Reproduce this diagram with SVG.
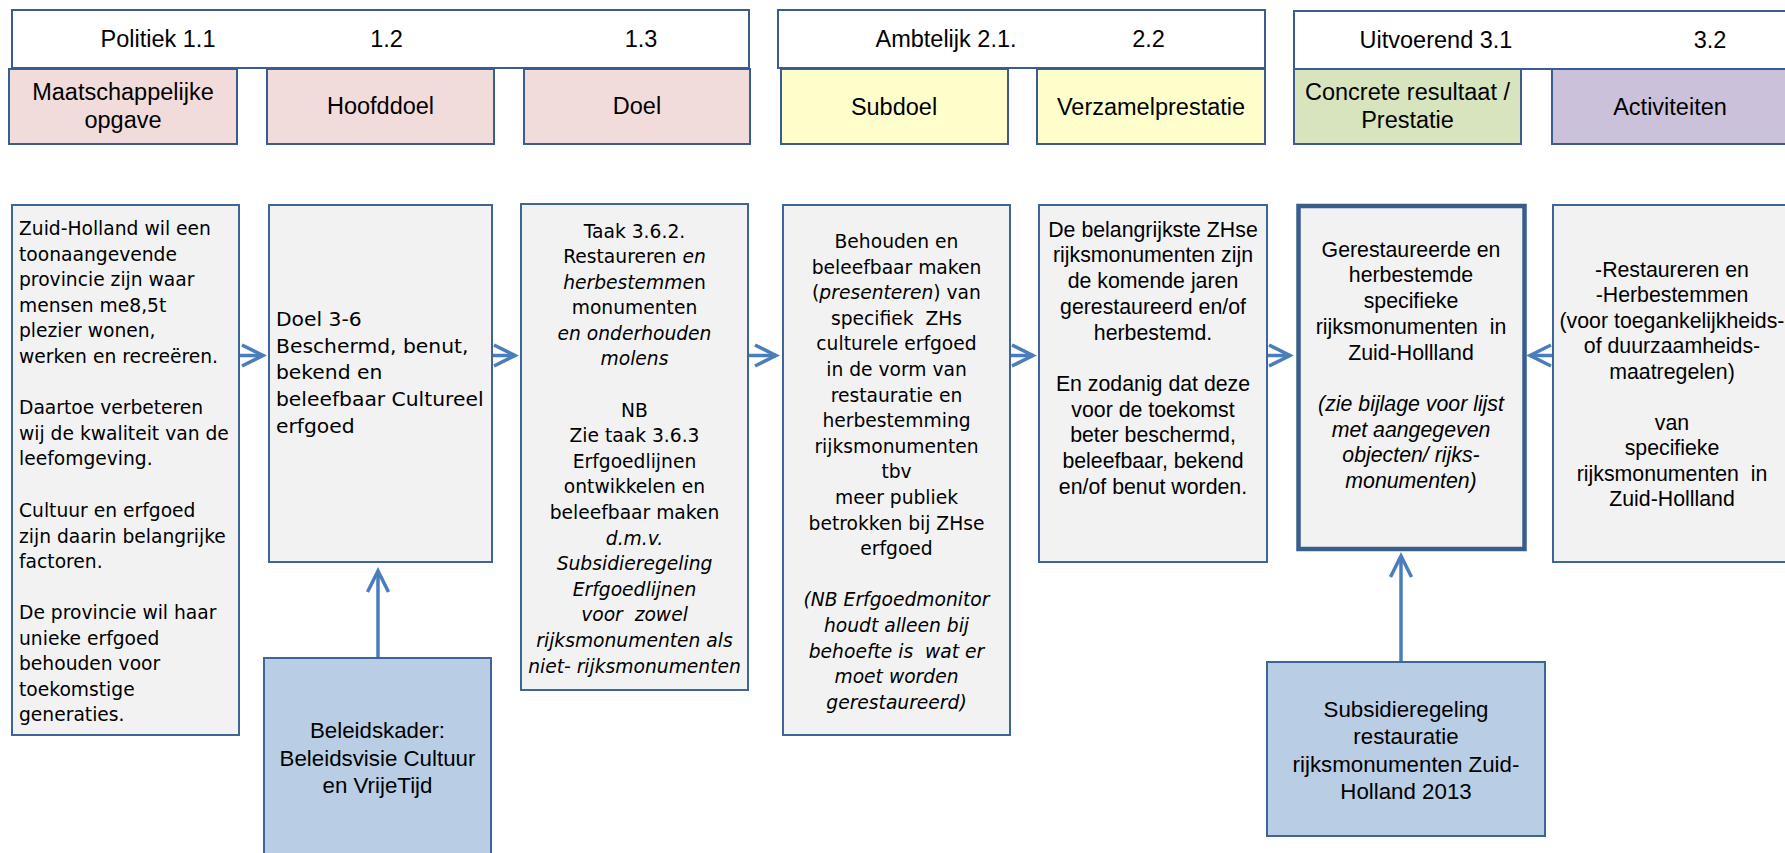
<svg xmlns="http://www.w3.org/2000/svg" width="1785" height="853" viewBox="0 0 1785 853">
<style>
.hdr{fill:#ffffff;stroke:#3A5D8F;stroke-width:2}
.pink{fill:#F2DCDB;stroke:#3A5D8F;stroke-width:2}
.yel{fill:#FFFFCC;stroke:#3A5D8F;stroke-width:2}
.grn{fill:#D7E4BD;stroke:#3A5D8F;stroke-width:2}
.pur{fill:#CCC1DA;stroke:#3A5D8F;stroke-width:2}
.box{fill:#F2F2F2;stroke:#3F649A;stroke-width:2}
.thick{fill:#F2F2F2;stroke:#3A5E8C;stroke-width:4.5}
.blue{fill:#B9CDE5;stroke:#3F649A;stroke-width:2}
text{white-space:pre;fill:#000}
.a{font-family:"Liberation Sans",Arial,sans-serif}
.v{font-family:"DejaVu Sans",Verdana,sans-serif;font-size:18.7px}
.h{font-size:23.5px}
.c{font-size:23.5px}
.n{font-size:21.3px}
.b{font-size:22.3px}
.m{text-anchor:middle}
.i{font-style:italic}
.conn{fill:none;stroke:#4A7EBB;stroke-width:3.5;marker-end:url(#arr)}
</style>
<defs>
<marker id="arr" markerUnits="userSpaceOnUse" markerWidth="30" markerHeight="30" viewBox="0 0 30 30" refX="25" refY="15" orient="auto">
<path d="M4,4.5 L25,15 L4,25.5" fill="none" stroke="#4A7EBB" stroke-width="3.5"/>
</marker>
</defs>

<g id="header-politiek">
<rect class="hdr" x="12" y="10" width="737" height="58"/>
<text class="a h m" x="158" y="47">Politiek 1.1</text>
<text class="a h m" x="386.5" y="47">1.2</text>
<text class="a h m" x="641" y="47">1.3</text>
</g>
<g id="header-ambtelijk">
<rect class="hdr" x="778" y="10" width="487" height="58"/>
<text class="a h m" x="946" y="47">Ambtelijk 2.1.</text>
<text class="a h m" x="1148.5" y="47">2.2</text>
</g>
<g id="header-uitvoerend">
<rect class="hdr" x="1294" y="11" width="520" height="58"/>
<text class="a h m" x="1436" y="48">Uitvoerend 3.1</text>
<text class="a h m" x="1710" y="48">3.2</text>
</g>

<g id="cat-maatschappelijke-opgave">
<rect class="pink" x="9" y="69" width="228" height="75"/>
<text class="a c m" x="123" y="100">Maatschappelijke</text>
<text class="a c m" x="123" y="128">opgave</text>
</g>
<g id="cat-hoofddoel">
<rect class="pink" x="267" y="69" width="227" height="75"/>
<text class="a c m" x="380.5" y="114">Hoofddoel</text>
</g>
<g id="cat-doel">
<rect class="pink" x="524" y="69" width="226" height="75"/>
<text class="a c m" x="637" y="114">Doel</text>
</g>
<g id="cat-subdoel">
<rect class="yel" x="781" y="69" width="227" height="75"/>
<text class="a c m" x="894" y="115">Subdoel</text>
</g>
<g id="cat-verzamelprestatie">
<rect class="yel" x="1037" y="69" width="228" height="75"/>
<text class="a c m" x="1151" y="115">Verzamelprestatie</text>
</g>
<g id="cat-concrete-resultaat">
<rect class="grn" x="1294" y="69" width="227" height="75"/>
<text class="a c m" x="1407.5" y="100">Concrete resultaat /</text>
<text class="a c m" x="1407.5" y="128">Prestatie</text>
</g>
<g id="cat-activiteiten">
<rect class="pur" x="1552" y="69" width="260" height="75"/>
<text class="a c m" x="1670" y="115">Activiteiten</text>
</g>

<g id="box-opgave">
<rect class="box" x="12" y="205" width="227" height="530"/>
<text class="v" x="19" y="235">Zuid-Holland wil een</text>
<text class="v" x="19" y="260.5">toonaangevende</text>
<text class="v" x="19" y="286">provincie zijn waar</text>
<text class="v" x="19" y="311.5">mensen me8,5t</text>
<text class="v" x="19" y="337">plezier wonen,</text>
<text class="v" x="19" y="362.5">werken en recreëren.</text>
<text class="v" x="19" y="414">Daartoe verbeteren</text>
<text class="v" x="19" y="439.5">wij de kwaliteit van de</text>
<text class="v" x="19" y="465">leefomgeving.</text>
<text class="v" x="19" y="517">Cultuur en erfgoed</text>
<text class="v" x="19" y="542.5">zijn daarin belangrijke</text>
<text class="v" x="19" y="568">factoren.</text>
<text class="v" x="19" y="619">De provincie wil haar</text>
<text class="v" x="19" y="644.5">unieke erfgoed</text>
<text class="v" x="19" y="670">behouden voor</text>
<text class="v" x="19" y="695.5">toekomstige</text>
<text class="v" x="19" y="721">generaties.</text>
</g>

<g id="box-hoofddoel">
<rect class="box" x="269" y="205" width="223" height="357"/>
<text class="v" x="276" y="326" style="font-size:20.3px">Doel 3-6</text>
<text class="v" x="276" y="352.7" style="font-size:20.3px">Beschermd, benut,</text>
<text class="v" x="276" y="379.4" style="font-size:20.3px">bekend en</text>
<text class="v" x="276" y="406.1" style="font-size:20.3px">beleefbaar Cultureel</text>
<text class="v" x="276" y="432.8" style="font-size:20.3px">erfgoed</text>
</g>

<g id="box-doel">
<rect class="box" x="521" y="204" width="227" height="486"/>
<text class="v m" x="634.5" y="237.5">Taak 3.6.2.</text>
<text class="v m" x="634.5" y="263">Restaureren <tspan class="i">en</tspan></text>
<text class="v m" x="634.5" y="288.6"><tspan class="i">herbestemme</tspan>n</text>
<text class="v m" x="634.5" y="314.2">monumenten</text>
<text class="v m i" x="634.5" y="339.8">en onderhouden</text>
<text class="v m i" x="634.5" y="365.4">molens</text>
<text class="v m" x="634.5" y="416.6">NB</text>
<text class="v m" x="634.5" y="442.2">Zie taak 3.6.3</text>
<text class="v m" x="634.5" y="467.8">Erfgoedlijnen</text>
<text class="v m" x="634.5" y="493.4">ontwikkelen en</text>
<text class="v m" x="634.5" y="519">beleefbaar maken</text>
<text class="v m i" x="634.5" y="544.6">d.m.v.</text>
<text class="v m i" x="634.5" y="570.2">Subsidieregeling</text>
<text class="v m i" x="634.5" y="595.8">Erfgoedlijnen</text>
<text class="v m i" x="634.5" y="621.4">voor  zowel</text>
<text class="v m i" x="634.5" y="647">rijksmonumenten als</text>
<text class="v m i" x="634.5" y="672.6">niet- rijksmonumenten</text>
</g>

<g id="box-subdoel">
<rect class="box" x="783" y="205" width="227" height="530"/>
<text class="v m" x="896.5" y="248">Behouden en</text>
<text class="v m" x="896.5" y="273.6">beleefbaar maken</text>
<text class="v m" x="896.5" y="299.2">(<tspan class="i">presenteren</tspan>) van</text>
<text class="v m" x="896.5" y="324.8">specifiek  ZHs</text>
<text class="v m" x="896.5" y="350.4">culturele erfgoed</text>
<text class="v m" x="896.5" y="376">in de vorm van</text>
<text class="v m" x="896.5" y="401.6">restauratie en</text>
<text class="v m" x="896.5" y="427.2">herbestemming</text>
<text class="v m" x="896.5" y="452.8">rijksmonumenten</text>
<text class="v m" x="896.5" y="478.4">tbv</text>
<text class="v m" x="896.5" y="504">meer publiek</text>
<text class="v m" x="896.5" y="529.6">betrokken bij ZHse</text>
<text class="v m" x="896.5" y="555.2">erfgoed</text>
<text class="v m i" x="896.5" y="606.4">(NB Erfgoedmonitor</text>
<text class="v m i" x="896.5" y="632">houdt alleen bij</text>
<text class="v m i" x="896.5" y="657.6">behoefte is  wat er</text>
<text class="v m i" x="896.5" y="683.2">moet worden</text>
<text class="v m i" x="896.5" y="708.8">gerestaureerd)</text>
</g>

<g id="box-verzamelprestatie">
<rect class="box" x="1039" y="205" width="228" height="357"/>
<text class="a n m" x="1153" y="236.7">De belangrijkste ZHse</text>
<text class="a n m" x="1153" y="262.4">rijksmonumenten zijn</text>
<text class="a n m" x="1153" y="288.1">de komende jaren</text>
<text class="a n m" x="1153" y="313.8">gerestaureerd en/of</text>
<text class="a n m" x="1153" y="339.5">herbestemd.</text>
<text class="a n m" x="1153" y="390.9">En zodanig dat deze</text>
<text class="a n m" x="1153" y="416.6">voor de toekomst</text>
<text class="a n m" x="1153" y="442.3">beter beschermd,</text>
<text class="a n m" x="1153" y="468">beleefbaar, bekend</text>
<text class="a n m" x="1153" y="493.7">en/of benut worden.</text>
</g>

<g id="box-resultaat">
<rect class="thick" x="1298.5" y="206" width="226" height="343"/>
<text class="a n m" x="1411" y="256.7">Gerestaureerde en</text>
<text class="a n m" x="1411" y="282.4">herbestemde</text>
<text class="a n m" x="1411" y="308.1">specifieke</text>
<text class="a n m" x="1411" y="333.8">rijksmonumenten  in</text>
<text class="a n m" x="1411" y="359.5">Zuid-Hollland</text>
<text class="a n m i" x="1411" y="410.9">(zie bijlage voor lijst</text>
<text class="a n m i" x="1411" y="436.6">met aangegeven</text>
<text class="a n m i" x="1411" y="462.3">objecten/ rijks-</text>
<text class="a n m i" x="1411" y="488">monumenten)</text>
</g>

<g id="box-activiteiten">
<rect class="box" x="1553" y="205" width="260" height="357"/>
<text class="a n m" x="1672" y="276.7">-Restaureren en</text>
<text class="a n m" x="1672" y="302">-Herbestemmen</text>
<text class="a n m" x="1672" y="327.5">(voor toegankelijkheids-</text>
<text class="a n m" x="1672" y="353">of duurzaamheids-</text>
<text class="a n m" x="1672" y="378.5">maatregelen)</text>
<text class="a n m" x="1672" y="429.5">van</text>
<text class="a n m" x="1672" y="455">specifieke</text>
<text class="a n m" x="1672" y="480.5">rijksmonumenten  in</text>
<text class="a n m" x="1672" y="506">Zuid-Hollland</text>
</g>

<g id="box-beleidskader">
<rect class="blue" x="264" y="658" width="227" height="215"/>
<text class="a b m" x="377.5" y="737.7">Beleidskader:</text>
<text class="a b m" x="377.5" y="765.5">Beleidsvisie Cultuur</text>
<text class="a b m" x="377.5" y="793.3">en VrijeTijd</text>
</g>

<g id="box-subsidieregeling">
<rect class="blue" x="1267" y="662" width="278" height="174"/>
<text class="a b m" x="1406" y="716.7">Subsidieregeling</text>
<text class="a b m" x="1406" y="744">restauratie</text>
<text class="a b m" x="1406" y="771.5">rijksmonumenten Zuid-</text>
<text class="a b m" x="1406" y="798.5">Holland 2013</text>
</g>

<g id="connectors">
<path class="conn" d="M240,355.5 H263"/>
<path class="conn" d="M493,355.5 H515"/>
<path class="conn" d="M749,355.5 H776"/>
<path class="conn" d="M1011,355.5 H1033"/>
<path class="conn" d="M1268,355.5 H1290"/>
<path class="conn" d="M1552,355.5 H1530"/>
<path class="conn" d="M378,657 V571"/>
<path class="conn" d="M1401,661 V556"/>
</g>
</svg>
